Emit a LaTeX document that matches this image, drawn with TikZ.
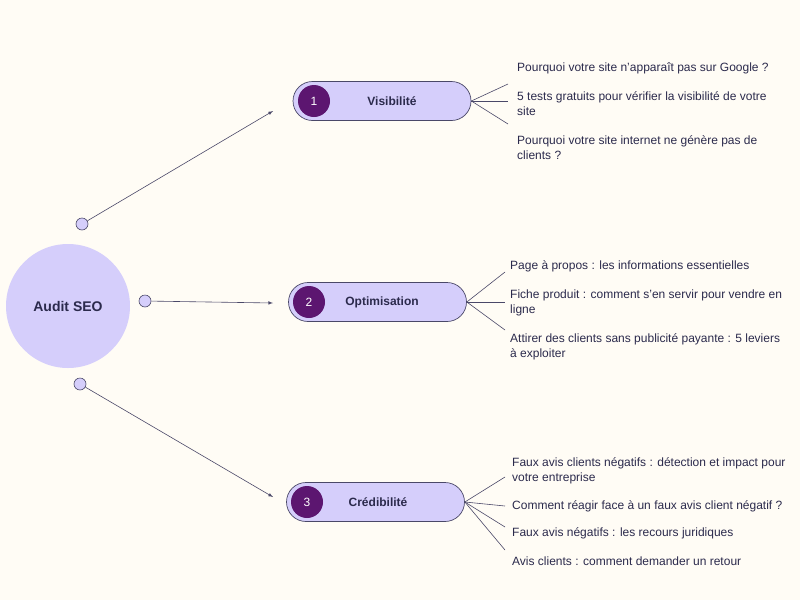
\documentclass[tikz,border=0pt]{standalone}
\usepackage{fontspec}
\setmainfont{Liberation Sans}
\begin{document}
\definecolor{bg}{HTML}{FFFCF5}
\definecolor{lav}{HTML}{D5CEFB}
\definecolor{plum}{HTML}{5C1670}
\definecolor{ink}{HTML}{2B2A4C}
\definecolor{ln}{HTML}{4A4868}
\begin{tikzpicture}[x=1pt,y=-1pt,
  pill/.style={draw=ln,fill=lav,rounded corners=19.5pt,minimum width=178pt,minimum height=39pt,line width=0.7pt},
  num/.style={circle,fill=plum,text=white,minimum size=32pt,inner sep=0pt,font=\fontsize{12}{14}\selectfont},
  lab/.style={text=ink,font=\bfseries\fontsize{12}{14}\selectfont},
  dot/.style={circle,draw=ln,fill=lav,minimum size=12pt,inner sep=0pt,line width=0.6pt},
  item/.style={anchor=west,align=left,text=ink,font=\fontsize{12}{15}\selectfont,inner sep=0pt},
  con/.style={draw=ln,line width=0.6pt,-latex},
  fan/.style={draw=ln,line width=0.6pt}]
\fill[bg] (0,0) rectangle (800,600);
\useasboundingbox (0,0) rectangle (800,600);
\node[circle,fill=lav,minimum size=124pt,text=ink,font=\bfseries\fontsize{14}{16}\selectfont] (root) at (68,306) {Audit SEO};
\node[dot] (d1) at (82,224) {};
\node[dot] (d2) at (145,301) {};
\node[dot] (d3) at (80,384) {};
\coordinate (e1) at (273,111);
\coordinate (e2) at (273,303);
\coordinate (e3) at (273,497);
\draw[con] (d1) -- (e1);
\draw[con] (d2) -- (e2);
\draw[con] (d3) -- (e3);
\node[pill] (p1) at (382,101) {};
\node[pill] (p2) at (377.5,302) {};
\node[pill] (p3) at (375.5,502) {};
\node[num] (n1) at (314,101) {1};
\node[num] (n2) at (309,302) {2};
\node[num] (n3) at (307,502) {3};
\node[lab] at (392,101) {Visibilité};
\node[lab] at (382,302) {Optimisation};
\node[lab] at (378,502) {Crédibilité};
% group 1
\node[item] (a1) at (517,68) {Pourquoi votre site n’apparaît pas sur Google ?};
\node[item] (a2) at (517,103.5) {5 tests gratuits pour vérifier la visibilité de votre\\site};
\node[item] (a3) at (517,147.5) {Pourquoi votre site internet ne génère pas de\\clients ?};
\draw[fan] (p1.east) -- (508,84);
\draw[fan] (p1.east) -- (508,101);
\draw[fan] (p1.east) -- (508,124);
% group 2
\node[item] (b1) at (510,266) {Page à propos : les informations essentielles};
\node[item] (b2) at (510,302.5) {Fiche produit : comment s’en servir pour vendre en\\ligne};
\node[item] (b3) at (510,346.5) {Attirer des clients sans publicité payante : 5 leviers\\à exploiter};
\draw[fan] (p2.east) -- (505,272);
\draw[fan] (p2.east) -- (505,302);
\draw[fan] (p2.east) -- (505,330);
% group 3
\node[item] (c1) at (512,470.5) {Faux avis clients négatifs : détection et impact pour\\votre entreprise};
\node[item] (c2) at (512,506) {Comment réagir face à un faux avis client négatif ?};
\node[item] (c3) at (512,533) {Faux avis négatifs : les recours juridiques};
\node[item] (c4) at (512,561) {Avis clients : comment demander un retour};
\draw[fan] (p3.east) -- (505,477);
\draw[fan] (p3.east) -- (505,506);
\draw[fan] (p3.east) -- (505,527);
\draw[fan] (p3.east) -- (505,550);
\end{tikzpicture}
\end{document}
